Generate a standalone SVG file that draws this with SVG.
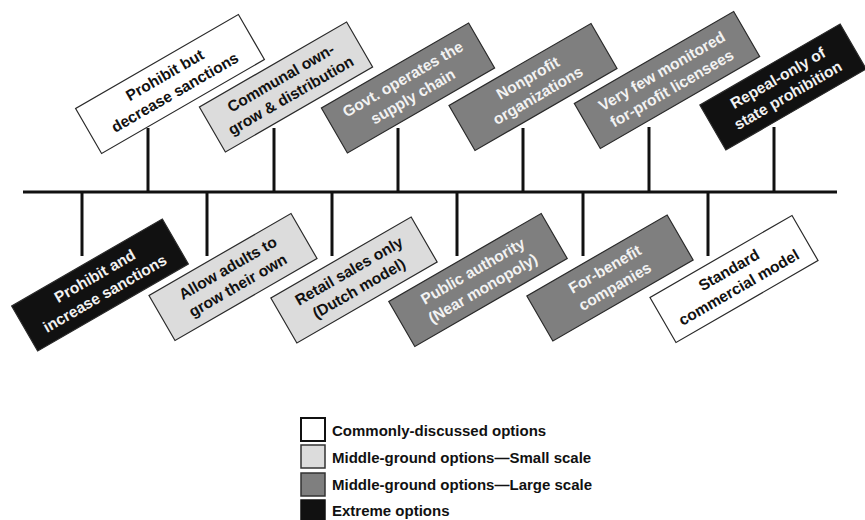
<svg xmlns="http://www.w3.org/2000/svg" width="865" height="520" viewBox="0 0 865 520">
<style>
.box{stroke:#2a2a2a;stroke-width:1.2}
.w{fill:#ffffff}.l{fill:#dcdcdc}.m{fill:#7f7f7f}.k{fill:#111111}
text{font-family:"Liberation Sans",Arial,sans-serif;font-weight:bold;font-size:15.5px}
.t{text-anchor:middle}
.dk{fill:#111}.lt{fill:#f2f2f2}
.ln{stroke:#111;stroke-width:3;fill:none}
.lg{font-size:15px;fill:#111}
</style>
<rect width="865" height="520" fill="#fff"/>
<g id="connectors">
<line class="ln" x1="23" y1="192" x2="837" y2="192"/>
<line class="ln" x1="148" y1="128" x2="148" y2="192"/>
<line class="ln" x1="274" y1="128" x2="274" y2="192"/>
<line class="ln" x1="398" y1="128" x2="398" y2="192"/>
<line class="ln" x1="523" y1="128" x2="523" y2="192"/>
<line class="ln" x1="649" y1="127" x2="649" y2="192"/>
<line class="ln" x1="774" y1="127" x2="774" y2="192"/>
<line class="ln" x1="82" y1="192" x2="82" y2="256"/>
<line class="ln" x1="207" y1="192" x2="207" y2="256"/>
<line class="ln" x1="332" y1="192" x2="332" y2="256"/>
<line class="ln" x1="457" y1="192" x2="457" y2="256"/>
<line class="ln" x1="583" y1="192" x2="583" y2="256"/>
<line class="ln" x1="708" y1="192" x2="708" y2="256"/>
</g>
<g id="n-prohibit-decrease" transform="translate(170,84) rotate(-30)">
<rect class="box w" x="-94" y="-26" width="188" height="52"/>
<text class="t dk" x="0" y="-5">Prohibit but</text><text class="t dk" x="0" y="15">decrease sanctions</text>
</g>
<g id="n-communal" transform="translate(286,87) rotate(-30)">
<rect class="box l" x="-85" y="-26" width="170" height="52"/>
<text class="t dk" x="0" y="-5">Communal own-</text><text class="t dk" x="0" y="15">grow &amp; distribution</text>
</g>
<g id="n-govt" transform="translate(408,88) rotate(-30)">
<rect class="box m" x="-85" y="-26" width="170" height="52"/>
<text class="t lt" x="0" y="-5">Govt. operates the</text><text class="t lt" x="0" y="15">supply chain</text>
</g>
<g id="n-nonprofit" transform="translate(533,87) rotate(-30)">
<rect class="box m" x="-82" y="-26" width="164" height="52"/>
<text class="t lt" x="0" y="-5">Nonprofit</text><text class="t lt" x="0" y="15">organizations</text>
</g>
<g id="n-veryfew" transform="translate(667,80) rotate(-30)">
<rect class="box m" x="-92" y="-26" width="184" height="52"/>
<text class="t lt" x="0" y="-5">Very few monitored</text><text class="t lt" x="0" y="15">for-profit licensees</text>
</g>
<g id="n-repeal" transform="translate(783,87) rotate(-30)">
<rect class="box k" x="-81" y="-26" width="162" height="52"/>
<text class="t lt" x="0" y="-5">Repeal-only of</text><text class="t lt" x="0" y="15">state prohibition</text>
</g>
<g id="n-prohibit-increase" transform="translate(100,285) rotate(-30)">
<rect class="box k" x="-87" y="-26" width="174" height="52"/>
<text class="t lt" x="0" y="-5">Prohibit and</text><text class="t lt" x="0" y="15">increase sanctions</text>
</g>
<g id="n-allow" transform="translate(233,277) rotate(-30)">
<rect class="box l" x="-82" y="-26" width="164" height="52"/>
<text class="t dk" x="0" y="-5">Allow adults to</text><text class="t dk" x="0" y="15">grow their own</text>
</g>
<g id="n-retail" transform="translate(354,280) rotate(-30)">
<rect class="box l" x="-81" y="-26" width="162" height="52"/>
<text class="t dk" x="0" y="-5">Retail sales only</text><text class="t dk" x="0" y="15">(Dutch model)</text>
</g>
<g id="n-public" transform="translate(478,280) rotate(-30)">
<rect class="box m" x="-88" y="-26" width="176" height="52"/>
<text class="t lt" x="0" y="-5">Public authority</text><text class="t lt" x="0" y="15">(Near monopoly)</text>
</g>
<g id="n-forbenefit" transform="translate(610,278) rotate(-30)">
<rect class="box m" x="-81" y="-26" width="162" height="52"/>
<text class="t lt" x="0" y="-5">For-benefit</text><text class="t lt" x="0" y="15">companies</text>
</g>
<g id="n-standard" transform="translate(734,279) rotate(-30)">
<rect class="box w" x="-82" y="-26" width="164" height="52"/>
<text class="t dk" x="0" y="-5">Standard</text><text class="t dk" x="0" y="15">commercial model</text>
</g>
<g id="legend">
<rect class="w" x="301" y="418" width="24" height="23" stroke="#111" stroke-width="2"/>
<text class="lg" x="332" y="436">Commonly-discussed options</text>
<rect class="l" x="301" y="445" width="24" height="23" stroke="#333" stroke-width="1.5"/>
<text class="lg" x="332" y="463">Middle-ground options—Small scale</text>
<rect class="m" x="301" y="473" width="24" height="23" stroke="#333" stroke-width="1.5"/>
<text class="lg" x="332" y="490">Middle-ground options—Large scale</text>
<rect class="k" x="301" y="500" width="24" height="22" stroke="#111" stroke-width="1.5"/>
<text class="lg" x="332" y="516">Extreme options</text>
</g>
</svg>
